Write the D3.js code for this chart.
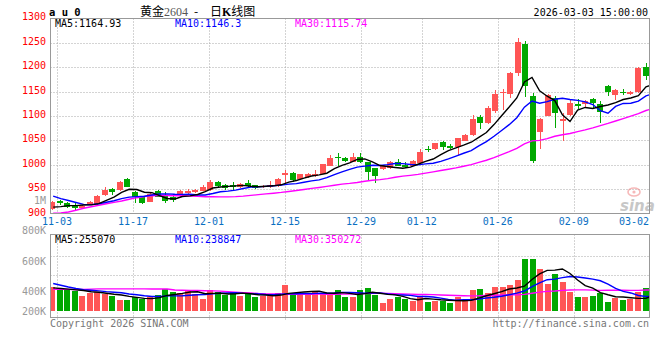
<!DOCTYPE html>
<html><head><meta charset="utf-8">
<script src="https://cdn.jsdelivr.net/npm/d3@7/dist/d3.min.js"></script>
<style>
html,body{margin:0;padding:0;background:#fff;}
svg{display:block;}
text{font-family:"DejaVu Sans Mono","Liberation Mono",monospace;font-size:10px;}
</style></head><body>
<svg id="c" width="660" height="360"></svg>
<script>
// ---------------- data ----------------
const dates = ["10-31",
 "11-03","11-04","11-05","11-06","11-07","11-10","11-11","11-12","11-13","11-14",
 "11-17","11-18","11-19","11-20","11-21","11-24","11-25","11-26","11-27","11-28",
 "12-01","12-02","12-03","12-04","12-05","12-08","12-09","12-10","12-11","12-12",
 "12-15","12-16","12-17","12-18","12-19","12-22","12-23","12-24","12-25","12-26",
 "12-29","12-30","12-31","01-05","01-06","01-07","01-08","01-09",
 "01-12","01-13","01-14","01-15","01-16","01-19","01-20","01-21","01-22","01-23",
 "01-26","01-27","01-28","01-29","01-30","02-02","02-03","02-04","02-05","02-06",
 "02-09","02-10","02-11","02-12","02-13","02-24","02-25","02-26","02-27","03-02","03-03"];
const dateTicks = ["11-03","11-17","12-01","12-15","12-29","01-12","01-26","02-09","03-02"];

const open  = [910,926,922,915.2,912.3,918.8,919.3,938.3,950,948.5,970.5,944.4,934.8,924.6,947.1,936.2,933.2,935.6,941.8,945,
 946.5,948.5,965.5,958.8,957.8,954.1,962.3,958.8,954.1,954.1,956.7,979.9,982.7,971.7,974.5,977.2,981.3,998.3,1016.7,1014.7,
 1006.5,1016.7,1005.3,993,990.9,993,1006.5,999.1,998.3,1003.8,1033.5,1031.9,1046.2,1039.3,1037.2,1049.5,1060.6,1097.4,1086.4,1110.9,
 1146.6,1145.1,1188.8,1247.5,1141,1067.9,1100.1,1136.3,1089.9,1102.1,1124.7,1124.7,1134.9,1124.7,1161.5,1143.1,1149.9,1144.5,1148.6,1199.8];
const high  = [925,928,924,921,917.8,926,938.3,953.7,952.6,967,972.1,946.5,936.2,941.4,948.5,943.8,939.7,948.5,949.6,950.6,
 957.8,969,967,960.8,964.9,962.9,969,959.8,958.8,967,972.1,989.5,986,982.3,983.4,989.5,1002.8,1020.2,1024.9,1016.1,
 1024.9,1024.9,1006.9,994.6,999.7,1007.9,1012,1006.5,1010,1032.5,1038.6,1045.8,1047.9,1042.1,1056,1063.2,1102.1,1102.1,1120.6,1153.3,
 1154.8,1189.2,1259.8,1253.1,1148,1096,1145.1,1141,1105.6,1134.3,1134.9,1132.9,1137,1131.4,1163.6,1154.4,1155.4,1151.3,1200.4,1208];
const low   = [907,918,912,905.5,909.6,916.8,917.8,936.2,937.3,947.5,954.7,922.5,919.9,924,934.2,921.3,923.3,934.2,940.3,941.8,
 945.5,947.5,955.3,948.5,948.5,952.6,952,950.6,952.6,952.6,955.7,962.3,965.5,971.1,973.1,975.8,980.3,997.7,998.3,1006.9,
 1005.9,1003.2,969,963.5,989.5,991.5,996.7,994.6,997.1,1002.8,1026.4,1030.5,1030.5,1031.9,1020.2,1048.9,1059.1,1073.5,1084.7,1106.8,
 1112.4,1136.3,1182,1139.6,1004.4,1032.5,1099.1,1075.9,1049.5,1101.1,1114.4,1115.9,1114.4,1086.4,1141.7,1132.9,1143.1,1143.1,1147.2,1173.8];
const close = [923,923.3,914.7,912.7,915.8,923.3,936.2,949.2,944.4,964.9,955.3,933.6,921.3,939.7,934.8,926.6,928.1,946.5,947.1,948.5,
 955.3,965.5,957.3,953.2,953.7,960.8,956.7,952,957.3,958.8,971.1,984,969,981.3,981.3,981.3,1001.8,1014.7,1014.7,1007.9,
 1016.7,1006.5,984.8,977.8,997.7,1006.5,998.3,996.3,1007.9,1027,1030.5,1044.2,1037.2,1035.2,1054.4,1061.2,1094,1086.4,1116.5,1145.1,
 1149.9,1187.5,1251,1162.1,1008.5,1094,1142.5,1105.6,1093.3,1126.1,1120.6,1131.4,1126.1,1108.9,1149.9,1153.3,1146.6,1149.9,1199,1182];

const ma5  = [913.5,914.5,916.5,916.5,917.9,918.0,920.5,927.4,933.8,943.6,950.0,949.5,943.9,943.0,936.9,931.2,930.1,935.1,936.6,939.4,
 945.1,952.6,954.7,956.0,957.0,958.1,956.3,955.3,956.1,957.1,959.2,964.6,968.0,972.8,977.3,979.4,982.9,992.1,998.8,1004.1,
 1011.2,1012.1,1006.1,998.7,996.7,994.7,993.0,995.3,1001.3,1007.2,1012.0,1021.2,1029.4,1034.8,1040.3,1046.4,1056.4,1066.2,1082.5,1100.6,
 1118.4,1137.1,1170.0,1179.1,1151.8,1140.6,1131.6,1102.5,1088.8,1112.3,1117.6,1115.4,1119.5,1122.6,1127.4,1133.9,1137.0,1141.7,1159.7,1164.93];
const ma10 = [936,931,927,923,919,918.5,920.5,923.5,926.5,930.8,934.0,935.0,935.7,938.4,940.3,940.6,939.8,939.5,939.8,938.2,
 938.2,941.3,944.9,946.3,948.2,951.6,954.5,955.0,956.0,957.1,958.6,960.5,961.7,964.5,967.2,969.3,973.8,980.1,985.8,990.7,
 995.3,997.5,999.1,998.8,1000.4,1002.9,1002.6,1000.7,1000.0,1002.0,1003.3,1007.1,1012.3,1018.1,1023.8,1029.2,1038.8,1047.8,1058.7,1070.5,
 1082.4,1096.7,1118.1,1130.8,1126.2,1129.5,1134.4,1136.3,1134.0,1132.1,1129.1,1123.5,1111.0,1105.7,1119.8,1125.8,1126.2,1130.6,1141.2,1146.3];
const ma30 = [900.8,901.4,903.5,907,911.1,914.3,917.2,920.5,923.3,926,929.5,932.8,935.2,936.7,937.3,937.3,936.9,936.7,936.2,935.6,
 934.8,934.8,934.5,934.5,935,936,937.5,939,940.5,942.0,943.6,945.6,947.4,949.7,951.9,953.8,956.0,958.2,960.5,962.0,
 964.0,966.5,968.6,969.8,971.9,974.6,976.9,978.6,980.6,983.2,985.7,988.4,991.0,993.8,997.1,1000.5,1005.0,1009.5,1014.8,1021.0,
 1027.0,1033.8,1043.2,1049.2,1050.1,1053.9,1058.6,1061.6,1064.2,1068.2,1071.6,1075.8,1080.5,1084.9,1089.9,1094.8,1099.8,1104.9,1111.3,1115.74];

const volume = [395,362,362,338,248,294,321,277,248,181,181,237,198,226,265,362,321,294,338,282,
 198,350,311,265,311,248,294,226,248,248,304,434,294,294,294,333,282,265,350,237,
 237,350,389,265,135,198,226,198,169,237,152,164,164,135,226,181,350,367,304,406,
 406,434,519,874,874,705,451,620,490,321,237,237,248,304,152,210,181,193,321,389].map(v => v * 1000);
const vma5 = [385,375,365,352,341,320.8,312.6,295.6,277.6,264.2,241.6,224.8,209,204.6,221.4,257.6,274.4,293.6,316,319.4,
 286.6,292.4,295.8,281.2,287,297,285.8,268.8,265.4,252.8,264,292,305.6,314.8,324,329.8,299.4,293.6,304.8,293.4,
 274.2,287.8,312.6,295.6,275.2,267.4,242.6,204.4,185.2,205.6,196.4,184,177.2,170.4,168.2,174,211.2,251.8,285.6,321.6,
 366.6,383.4,413.8,527.8,621.4,681.2,684.6,704.8,628,517.4,423.8,381,306.6,269.4,235.6,230.2,219,208,211.4,255.07].map(v => v * 1000);
const vma10 = [460,430,400,375,355,345,335,322,312,302.6,281.2,268.7,252.3,241.1,242.8,249.6,249.6,251.3,260.3,270.4,
 272.1,283.4,294.7,298.6,303.2,291.8,289.1,282.3,273.3,269.9,280.5,288.9,287.2,290.1,288.4,296.9,295.7,299.6,309.8,308.7,
 302,293.6,303.1,300.2,284.3,270.8,265.2,258.5,240.4,240.4,231.9,213.3,190.8,177.8,186.9,185.2,197.6,214.5,228,244.9,
 270.3,297.3,332.8,406.7,471.5,523.9,534,559.3,577.9,569.4,552.5,532.8,505.7,448.7,376.5,327,300,257.3,240.4,238.847].map(v => v * 1000);
const vma30 = [360,360,360,358,358,365,368,368,368,368,368,368,368,367,366,366,350,345,342,340,
 338,335,330,320,312,305,298,290,285,281,277.9,280.3,278.1,276.6,278.1,279.4,278.1,277.7,281.1,283,
 284.9,288.6,295,296.3,292,286.5,283.3,280.1,274.5,273,271.5,265.3,260.4,256,253.2,251,252.8,257.5,259.4,264.7,
 268.1,268.1,275.6,294.9,314.2,326.6,332.3,344.1,348.8,351.6,351.6,347.8,343.1,344.4,345,345.4,343.9,343.7,348.8,350.272].map(v => v * 1000);

const priceTicks = [900,950,1000,1050,1100,1150,1200,1250,1300];
const volTickValues = [200000,400000,600000,800000,1000000];
const volTickLabels = ["200K","400K","600K","800K","1M"];
const volGridValues = [600000,930000];

// ---------------- drawing ----------------
const svg = d3.select("#c");
const L = 50.5, R = 649.5;
const RED = "#ff5555", GREEN = "#00a800", GRID = "#a8a8a8", FRAME = "#999";

const idx = d3.range(dates.length);
const xC = d3.scaleLinear().domain([0, dates.length - 1]).range([52.4, 645.5]); // candle centres
const xG = d3.scaleLinear().domain([0, dates.length - 1]).range([49.4, 649.8]); // grid / date axis
const xLn = i => xG(i) + 3.8; // moving-average polylines

const y = d3.scaleLinear().domain([900, 1300]).range([213.7, 18.4]);
const yv = d3.scaleLinear().domain([0, 1000000]).range([310.7, 251.5]);
const yvLab = d3.scaleLinear().domain(volTickValues).range([311, 291, 261, 230, 200.7]);

const defs = svg.append("defs");
defs.append("clipPath").attr("id","cpMain").append("rect").attr("x",L).attr("y",18.5).attr("width",R-L).attr("height",195);
defs.append("clipPath").attr("id","cpVol").append("rect").attr("x",L).attr("y",234.5).attr("width",R-L).attr("height",83);

// horizontal grid (main)
svg.append("g").selectAll("line").data(priceTicks.filter(v => v > 900 && v < 1300)).join("line")
  .attr("x1", L).attr("x2", R).attr("y1", d => Math.round(y(d)) + 0.5).attr("y2", d => Math.round(y(d)) + 0.5)
  .attr("stroke", GRID).attr("stroke-dasharray", "1,2");
// horizontal grid (volume)
svg.append("g").selectAll("line").data(volGridValues).join("line")
  .attr("x1", L).attr("x2", R).attr("y1", d => Math.round(yv(d)) + 0.5).attr("y2", d => Math.round(yv(d)) + 0.5)
  .attr("stroke", GRID).attr("stroke-dasharray", "1,2");

// vertical grid
const gridIdx = dateTicks.slice(0, -1).map(d => dates.indexOf(d));
const vg = svg.append("g");
gridIdx.forEach(i => {
  const gx = Math.round(xG(i)) + 0.5;
  vg.append("line").attr("x1", gx).attr("x2", gx).attr("y1", 18.5).attr("y2", 213.5)
    .attr("stroke", GRID).attr("stroke-dasharray", "1,2");
  vg.append("line").attr("x1", gx).attr("x2", gx).attr("y1", 234.5).attr("y2", 320)
    .attr("stroke", GRID).attr("stroke-dasharray", "1,2");
});

// watermark
const wm = svg.append("g").attr("opacity", 0.55);
wm.append("ellipse").attr("cx", 634).attr("cy", 192).attr("rx", 6).attr("ry", 4)
  .attr("fill", "none").attr("stroke", "#f08080").attr("stroke-width", 1.6);
wm.append("circle").attr("cx", 634).attr("cy", 192).attr("r", 1.6).attr("fill", "#f08080");
wm.append("text").attr("x", 620).attr("y", 211).text("sina")
  .style("font-family", "'DejaVu Sans', sans-serif").style("font-size", "15px")
  .style("font-weight", "bold").style("font-style", "italic").attr("fill", "#9a9a9a");

// candles
const up = i => close[i] >= open[i];
const cg = svg.append("g").attr("clip-path", "url(#cpMain)").attr("shape-rendering", "crispEdges");
const bodyLeft = i => Math.round(xC(i) - 3);
cg.selectAll("line").data(idx).join("line")
  .attr("x1", i => bodyLeft(i) + 3.5).attr("x2", i => bodyLeft(i) + 3.5)
  .attr("y1", i => y(high[i])).attr("y2", i => y(low[i]))
  .attr("stroke", i => up(i) ? RED : GREEN);
cg.selectAll("rect").data(idx).join("rect")
  .attr("x", i => bodyLeft(i)).attr("width", 6)
  .attr("y", i => y(Math.max(open[i], close[i])))
  .attr("height", i => Math.max(1.5, Math.abs(y(open[i]) - y(close[i]))))
  .attr("fill", i => up(i) ? RED : GREEN);

// MA lines (main)
const lineP = d3.line().x((d, i) => xLn(i)).y(d => y(d));
const mg = svg.append("g").attr("clip-path", "url(#cpMain)").attr("fill", "none").attr("stroke-width", 1.4);
mg.append("path").attr("d", lineP(ma30)).attr("stroke", "#ff00ff");
mg.append("path").attr("d", lineP(ma10)).attr("stroke", "#0000ff");
mg.append("path").attr("d", lineP(ma5)).attr("stroke", "#000");

// volume bars
const vb = svg.append("g").attr("clip-path", "url(#cpVol)").attr("shape-rendering", "crispEdges");
vb.selectAll("rect").data(idx).join("rect")
  .attr("x", i => bodyLeft(i)).attr("width", 6)
  .attr("y", i => yv(volume[i])).attr("height", i => yv(0) - yv(volume[i]))
  .attr("fill", i => up(i) ? RED : GREEN);
const lineV = d3.line().x((d, i) => xLn(i)).y(d => yv(d));
const vl = svg.append("g").attr("clip-path", "url(#cpVol)").attr("fill", "none").attr("stroke-width", 1.4);
vl.append("path").attr("d", lineV(vma30)).attr("stroke", "#ff00ff");
vl.append("path").attr("d", lineV(vma10)).attr("stroke", "#0000ff");
vl.append("path").attr("d", lineV(vma5)).attr("stroke", "#000");

// frames
svg.append("rect").attr("x", L).attr("y", 18.5).attr("width", R - L).attr("height", 195)
  .attr("fill", "none").attr("stroke", FRAME);
svg.append("rect").attr("x", L).attr("y", 234.5).attr("width", R - L).attr("height", 83)
  .attr("fill", "none").attr("stroke", FRAME);

// price axis labels
svg.append("g").selectAll("text").data(priceTicks).join("text")
  .attr("x", 46).attr("y", d => y(d) + 2).attr("text-anchor", "end").attr("fill", "#ff0000")
  .text(d => d);
// volume axis labels
svg.append("g").selectAll("text").data(volTickValues).join("text")
  .attr("x", 46).attr("y", d => yvLab(d) + 3.6).attr("text-anchor", "end").attr("fill", "#999")
  .text((d, i) => volTickLabels[i]);

// date labels
svg.append("g").selectAll("text").data(dateTicks).join("text")
  .attr("y", 225).attr("fill", "#0a6fc2").attr("text-anchor", "middle")
  .attr("x", d => Math.min(xG(dates.indexOf(d)), 649 - 15))
  .text(d => d);

// header
svg.append("text").attr("x", 49).attr("y", 15.5).text("a u 0")
  .style("font-weight", "bold").style("font-size", "10.5px");
const t = svg.append("text").attr("x", 140).attr("y", 16)
  .style("font-family", "'Noto Sans CJK SC', sans-serif").style("font-size", "12px");
t.append("tspan").text("黄金");
t.append("tspan").text("2604").style("font-family", "'Liberation Serif', serif").attr("fill", "#555");
t.append("tspan").attr("x", 194).text("-");
t.append("tspan").attr("x", 210).text("日");
t.append("tspan").text("K").style("font-family", "'Liberation Serif', serif").style("font-weight", "bold");
t.append("tspan").text("线图");
svg.append("text").attr("x", 648).attr("y", 15.5).attr("text-anchor", "end").text("2026-03-03 15:00:00");

// legends
const lg = [["MA5:" + ma5[ma5.length - 1], "#000", 55], ["MA10:" + ma10[ma10.length - 1], "#0000ff", 175], ["MA30:" + ma30[ma30.length - 1], "#ff00ff", 295]];
lg.forEach(d => svg.append("text").attr("x", d[2]).attr("y", 27).attr("fill", d[1]).text(d[0]));
const vlg = [["MA5:" + Math.round(vma5[vma5.length - 1]), "#000", 55], ["MA10:" + Math.round(vma10[vma10.length - 1]), "#0000ff", 175], ["MA30:" + Math.round(vma30[vma30.length - 1]), "#ff00ff", 295]];
vlg.forEach(d => svg.append("text").attr("x", d[2]).attr("y", 243).attr("fill", d[1]).text(d[0]));

// footer
svg.append("text").attr("x", 50).attr("y", 327).attr("fill", "#777").text("Copyright 2026 SINA.COM");
svg.append("text").attr("x", 649).attr("y", 327).attr("fill", "#777").attr("text-anchor", "end").text("http://finance.sina.com.cn");
</script>
</body></html>
